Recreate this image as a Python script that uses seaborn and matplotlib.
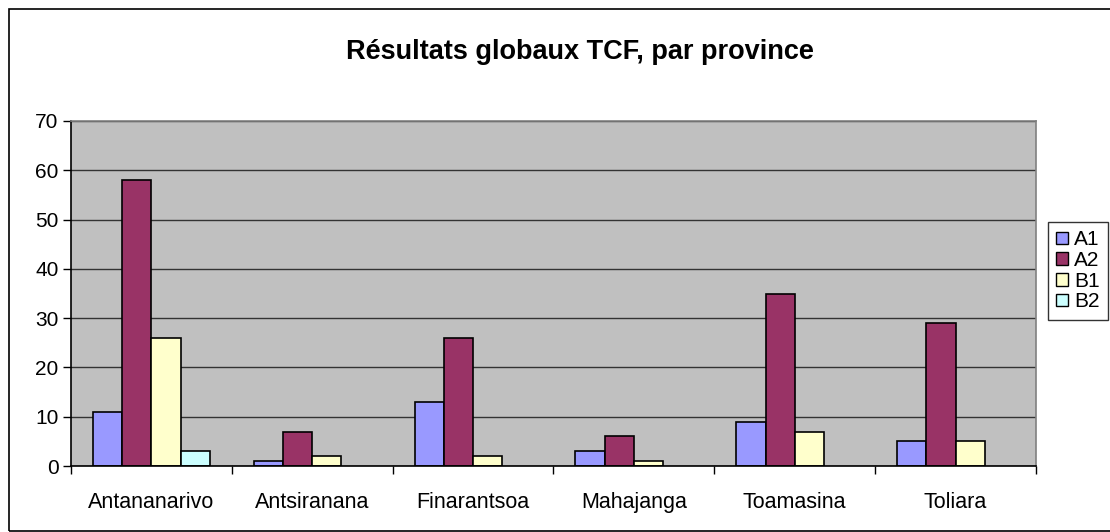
import numpy as np
import pandas as pd
import seaborn as sns
import matplotlib.pyplot as plt
from matplotlib.patches import Rectangle

provinces = ['Antananarivo', 'Antsiranana', 'Finarantsoa', 'Mahajanga', 'Toamasina', 'Toliara']
niveaux = ['A1', 'A2', 'B1', 'B2']
a1 = [11, 1, 13, 3, 9, 5]
a2 = [58, 7, 26, 6, 35, 29]
b1 = [26, 2, 2, 1, 7, 5]
b2 = [3, 0, 0, 0, 0, 0]
couleurs = ['#9999FF', '#993366', '#FFFFCC', '#CCFFFF']

df = pd.DataFrame({'province': provinces, 'A1': a1, 'A2': a2, 'B1': b1, 'B2': b2})
df = df.melt(id_vars='province', var_name='niveau', value_name='valeur')

sns.set_style('white')
plt.rcParams['font.family'] = ['Liberation Sans', 'DejaVu Sans']
plt.rcParams['text.color'] = 'black'
plt.rcParams['xtick.color'] = 'black'
plt.rcParams['ytick.color'] = 'black'

fig = plt.figure(figsize=(11.1, 5.32), dpi=100)
ax = fig.add_axes([71 / 1110, 66 / 532, 965 / 1110, 345 / 532])

sns.barplot(data=df, x='province', y='valeur', hue='niveau', order=provinces,
            hue_order=niveaux, palette=couleurs, width=4 / 5.5, gap=0,
            edgecolor='black', linewidth=1.2, saturation=1, ax=ax, legend=False)

# zero bars draw nothing
for p in ax.patches:
    if p.get_height() == 0:
        p.set_linewidth(0)

ax.set_facecolor('#C0C0C0')
ax.set_xlim(-0.5, 5.5)
ax.set_ylim(0, 70)
ax.set_yticks(np.arange(0, 71, 10))
ax.yaxis.grid(True, color='#333333', linewidth=1.0)
ax.set_axisbelow(True)
ax.set_xlabel('')
ax.set_ylabel('')

ax.set_xticks(np.arange(-0.5, 6, 1), minor=True)
ax.tick_params(axis='x', which='major', length=0, pad=19, labelsize=15.5, labelcolor='black')
ax.tick_params(axis='x', which='minor', length=6, width=1, color='black', direction='out')
ax.tick_params(axis='y', length=6, width=1, color='black', direction='out', pad=3,
               labelsize=15, labelcolor='black')
ax.tick_params(bottom=True, left=True, which='both')

for side in ['left', 'bottom']:
    ax.spines[side].set_color('black')
    ax.spines[side].set_linewidth(1.2)
for side in ['top', 'right']:
    ax.spines[side].set_color('#808080')
    ax.spines[side].set_linewidth(1.2)

fig.text(580 / 1110, 1 - 52 / 532, 'Résultats globaux TCF, par province',
         ha='center', va='center', fontsize=19.5, fontweight='bold', color='black')

handles = [Rectangle((0, 0), 1, 1, facecolor=c, edgecolor='black', linewidth=1.0) for c in couleurs]
leg = fig.legend(handles, niveaux, loc='upper left', bbox_to_anchor=(1048 / 1110, 1 - 222 / 532),
                 frameon=True, fontsize=15, handlelength=0.55, handleheight=0.55,
                 handletextpad=0.3, labelspacing=0.08, borderaxespad=0, borderpad=0.4,
                 fancybox=False)
leg.get_frame().set_edgecolor('black')
leg.get_frame().set_linewidth(1.0)
for t in leg.get_texts():
    t.set_color('black')

fig.patches.append(Rectangle((9 / 1110, 1 / 532), 1.2, 522 / 532, transform=fig.transFigure,
                             fill=False, edgecolor='black', linewidth=1.2))

fig.savefig('out.png', dpi=100)
